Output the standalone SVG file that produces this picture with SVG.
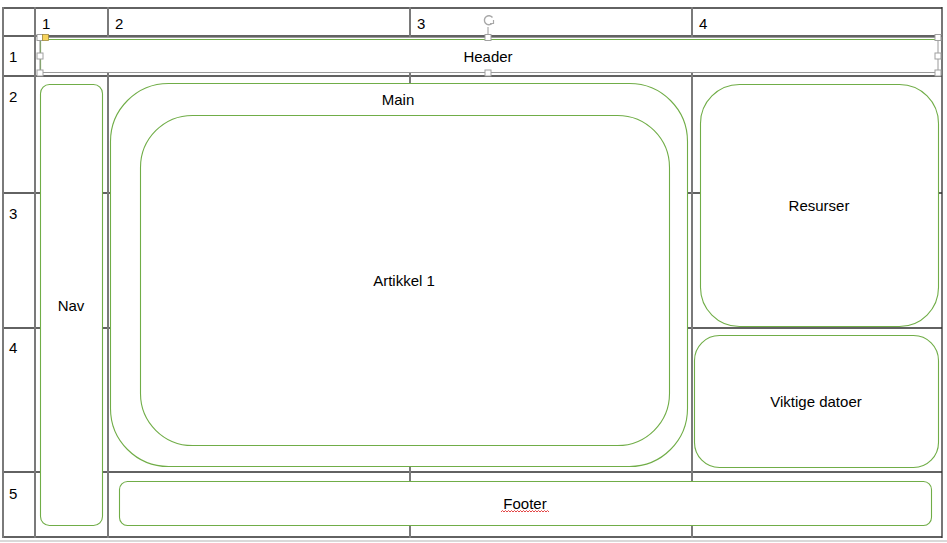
<svg xmlns="http://www.w3.org/2000/svg" width="947" height="543" viewBox="0 0 947 543">
<style>
  .vl { stroke: #7a7a7a; stroke-width: 2; fill: none; }
  .hl { stroke: #2e2e2e; stroke-width: 1.3; fill: none; }
  .shape { fill: #ffffff; stroke: #70ad47; stroke-width: 1.1; }
  .lbl { font-family: "Liberation Sans", Arial, sans-serif; font-size: 15px; fill: #000000; text-anchor: middle; }
  .num { font-family: "Liberation Sans", Arial, sans-serif; font-size: 15px; fill: #000000; }
  .handle { fill: #ffffff; stroke: #a0a0a0; stroke-width: 1; }
</style>
<rect x="0" y="0" width="947" height="543" fill="#ffffff"/>
<g id="grid">
  <line class="hl" x1="3" y1="8" x2="942" y2="8"/>
  <line class="hl" x1="3" y1="36" x2="942" y2="36"/>
  <line class="hl" x1="3" y1="76" x2="942" y2="76"/>
  <line class="hl" x1="3" y1="193" x2="942" y2="193"/>
  <line class="hl" x1="3" y1="328" x2="942" y2="328"/>
  <line class="hl" x1="3" y1="472" x2="942" y2="472"/>
  <line class="hl" x1="3" y1="537" x2="942" y2="537"/>
  <line x1="0" y1="541" x2="947" y2="541" stroke="#cccccc" stroke-width="1.5"/>
  <line class="vl" x1="3" y1="7" x2="3" y2="538"/>
  <line class="vl" x1="35" y1="7" x2="35" y2="538"/>
  <line class="vl" x1="108" y1="7" x2="108" y2="538"/>
  <line class="vl" x1="410" y1="7" x2="410" y2="538"/>
  <line class="vl" x1="692" y1="7" x2="692" y2="538"/>
  <line class="hl" x1="942" y1="7" x2="942" y2="538"/>
  <text class="num" x="42" y="29">1</text>
  <text class="num" x="115" y="29">2</text>
  <text class="num" x="417" y="29">3</text>
  <text class="num" x="699" y="29">4</text>
  <text class="num" x="9" y="62">1</text>
  <text class="num" x="9" y="102">2</text>
  <text class="num" x="9" y="219">3</text>
  <text class="num" x="9" y="353">4</text>
  <text class="num" x="9" y="499">5</text>
</g>
<g id="nav">
  <rect class="shape" x="40.5" y="84.5" width="62" height="441" rx="9"/>
  <text class="lbl" x="71" y="311">Nav</text>
</g>
<g id="main">
  <rect class="shape" x="110.5" y="83.5" width="577" height="383" rx="58"/>
  <text class="lbl" x="398" y="105">Main</text>
</g>
<g id="artikkel1">
  <rect class="shape" x="140.5" y="115.5" width="529" height="330" rx="52"/>
  <text class="lbl" x="404" y="286">Artikkel 1</text>
</g>
<g id="resurser">
  <rect class="shape" x="700.5" y="84.5" width="238" height="242" rx="39"/>
  <text class="lbl" x="819" y="211">Resurser</text>
</g>
<g id="viktige">
  <rect class="shape" x="694.5" y="335.5" width="244" height="132" rx="25"/>
  <text class="lbl" x="816" y="407">Viktige datoer</text>
</g>
<g id="footer">
  <rect class="shape" x="119.5" y="481.5" width="812" height="44" rx="8"/>
  <text class="lbl" x="525" y="509">Footer</text>
  <polyline points="501,512 502.5,510.5 504,512 505.5,510.5 507,512 508.5,510.5 510,512 511.5,510.5 513,512 514.5,510.5 516,512 517.5,510.5 519,512 520.5,510.5 522,512 523.5,510.5 525,512 526.5,510.5 528,512 529.5,510.5 531,512 532.5,510.5 534,512 535.5,510.5 537,512 538.5,510.5 540,512 541.5,510.5 543,512 544.5,510.5 546,512 547.5,510.5 549,512" fill="none" stroke="#e03030" stroke-width="0.9"/>
</g>
<g id="header">
  <rect x="40" y="38" width="898" height="35" fill="#ffffff" stroke="none"/>
  <line x1="40" y1="39.5" x2="938" y2="39.5" stroke="#70ad47" stroke-width="1.2"/>
  <line x1="40.5" y1="39" x2="40.5" y2="72" stroke="#70ad47" stroke-width="1.2"/>
  <rect x="40" y="37.5" width="898" height="35" fill="none" stroke="#9a9a9a" stroke-width="1"/>
  <text class="lbl" x="488" y="62">Header</text>
  <line x1="488" y1="27" x2="488" y2="37" stroke="#9a9a9a" stroke-width="1"/>
  <path d="M 492.5 17.5 A 4.5 4.5 0 1 0 492 23.5" fill="none" stroke="#a8a8a8" stroke-width="1.4"/>
  <path d="M 490 23.5 L 493.5 23.5 L 493.5 20" fill="none" stroke="#a8a8a8" stroke-width="1.2"/>
  <rect class="handle" x="37" y="34.5" width="6" height="6"/>
  <rect class="handle" x="37" y="53" width="6" height="6"/>
  <rect class="handle" x="37" y="70" width="6" height="6"/>
  <rect class="handle" x="485" y="34.5" width="6" height="6"/>
  <rect class="handle" x="485" y="70" width="6" height="6"/>
  <rect class="handle" x="935" y="34.5" width="6" height="6"/>
  <rect class="handle" x="935" y="53" width="6" height="6"/>
  <rect class="handle" x="935" y="70" width="6" height="6"/>
  <rect x="42.5" y="34.5" width="6" height="6" fill="#f7d35c" stroke="#a08a40" stroke-width="0.8"/>
</g>
</svg>
